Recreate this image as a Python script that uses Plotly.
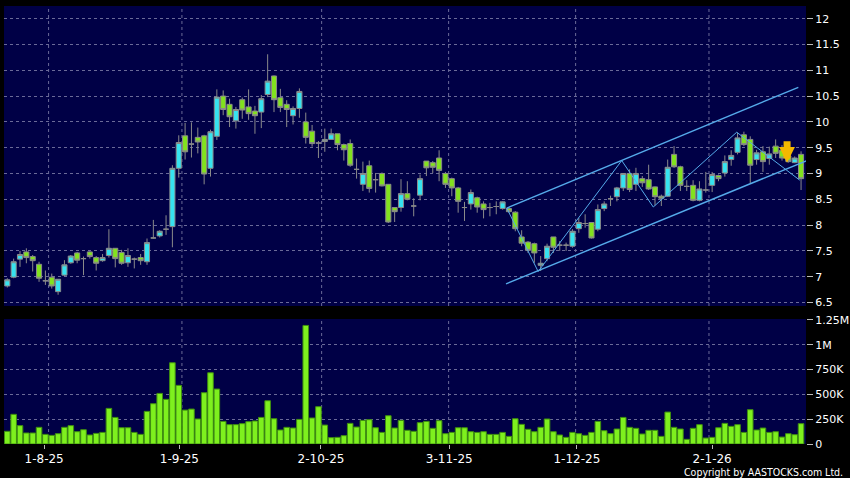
import plotly.graph_objects as go

# ---------------- data ----------------
opens = [6.82, 6.99, 7.34, 7.48, 7.39, 7.24, 6.92, 6.99, 6.71, 7.03,
         7.27, 7.46, 7.35, 7.48, 7.37, 7.31, 7.41, 7.55, 7.47, 7.27,
         7.34, 7.37, 7.29, 7.75, 7.79, 7.92, 7.97, 9.10, 9.73, 9.57,
         9.70, 9.73, 9.10, 9.72, 10.50, 10.34, 10.02, 10.43, 10.29, 10.21,
         10.19, 10.53, 10.89, 10.47, 10.34, 10.12, 10.26, 10.00, 9.82, 9.59,
         9.62, 9.66, 9.77, 9.56, 9.58, 9.08, 8.79, 9.15, 8.88, 9.00,
         8.79, 8.34, 8.34, 8.61, 8.37, 8.58, 9.24, 9.21, 9.30, 9.00,
         8.90, 8.72, 8.34, 8.41, 8.53, 8.41, 8.34, 8.36, 8.32, 8.32,
         8.25, 7.77, 7.67, 7.64, 7.22, 7.35, 7.77, 7.61, 7.61, 7.59,
         7.93, 8.03, 8.05, 7.92, 8.32, 8.51, 8.55, 8.72, 9.00, 8.79,
         8.90, 8.88, 8.74, 8.56, 8.56, 9.37, 9.13, 8.75, 8.77, 8.48,
         8.68, 8.77, 8.96, 9.01, 9.27, 9.41, 9.75, 9.66, 9.27, 9.42,
         9.29, 9.53, 9.45, 9.34, 9.21, 9.37]
highs = [6.97, 7.35, 7.50, 7.55, 7.42, 7.29, 7.12, 7.06, 6.95, 7.32,
         7.42, 7.48, 7.39, 7.49, 7.40, 7.44, 7.92, 7.55, 7.52, 7.55,
         7.37, 7.44, 7.74, 8.10, 7.90, 8.19, 9.16, 9.74, 9.98, 9.99,
         9.89, 9.75, 9.85, 10.63, 10.61, 10.45, 10.29, 10.47, 10.63, 10.31,
         10.52, 11.31, 10.90, 10.64, 10.42, 10.30, 10.65, 10.18, 9.94, 9.63,
         9.87, 9.87, 9.77, 9.58, 9.66, 9.29, 9.23, 9.25, 9.01, 9.02,
         8.79, 8.34, 8.89, 8.85, 8.52, 8.98, 9.24, 9.24, 9.45, 9.03,
         8.92, 8.74, 8.45, 8.69, 8.55, 8.46, 8.43, 8.46, 8.46, 8.35,
         8.27, 7.90, 7.69, 7.66, 7.40, 7.64, 7.77, 7.69, 7.66, 7.92,
         8.14, 8.21, 8.06, 8.40, 8.46, 8.57, 8.74, 9.00, 9.08, 9.11,
         8.95, 9.17, 8.75, 8.59, 9.27, 9.53, 9.15, 8.87, 8.87, 8.85,
         9.03, 9.03, 8.98, 9.35, 9.45, 9.79, 9.81, 9.72, 9.46, 9.53,
         9.52, 9.66, 9.55, 9.37, 9.33, 9.43]
lows = [6.79, 6.97, 7.19, 7.26, 7.10, 6.90, 6.84, 6.77, 6.65, 7.01,
        7.25, 7.26, 7.03, 7.35, 7.12, 7.29, 7.37, 7.18, 7.23, 7.19,
        7.16, 7.23, 7.23, 7.74, 7.76, 7.81, 7.57, 8.92, 9.27, 9.31,
        9.39, 8.79, 8.94, 9.65, 10.13, 9.90, 9.87, 10.06, 10.04, 9.77,
        9.88, 10.48, 10.19, 10.19, 9.90, 9.95, 10.08, 9.58, 9.52, 9.30,
        9.42, 9.65, 9.45, 9.25, 9.13, 8.90, 8.66, 8.63, 8.63, 8.75,
        8.04, 8.06, 8.26, 8.48, 8.17, 8.48, 8.95, 9.01, 8.85, 8.72,
        8.56, 8.24, 8.08, 8.30, 8.24, 8.13, 8.17, 8.21, 8.30, 8.24,
        7.88, 7.59, 7.46, 7.27, 7.11, 7.30, 7.46, 7.50, 7.50, 7.56,
        7.85, 7.95, 7.74, 7.88, 8.27, 8.37, 8.46, 8.66, 8.64, 8.66,
        8.74, 8.68, 8.38, 8.37, 8.55, 9.11, 8.66, 8.66, 8.46, 8.46,
        8.63, 8.64, 8.85, 8.94, 9.15, 9.37, 9.53, 8.81, 9.17, 9.03,
        9.17, 9.30, 9.25, 9.21, 9.20, 8.68]
closes = [6.94, 7.29, 7.43, 7.37, 7.31, 6.97, 6.92, 6.82, 6.95, 7.23,
          7.40, 7.32, 7.35, 7.39, 7.26, 7.37, 7.55, 7.35, 7.26, 7.41,
          7.34, 7.31, 7.66, 7.75, 7.88, 7.92, 9.10, 9.60, 9.42, 9.57,
          9.61, 8.99, 9.81, 10.48, 10.24, 10.10, 10.24, 10.23, 10.16, 10.12,
          10.45, 10.79, 10.43, 10.28, 10.24, 10.26, 10.59, 9.70, 9.58, 9.59,
          9.66, 9.77, 9.56, 9.46, 9.16, 9.08, 9.00, 8.71, 8.88, 8.76,
          8.06, 8.26, 8.61, 8.50, 8.37, 8.90, 9.11, 9.12, 9.06, 8.79,
          8.72, 8.46, 8.34, 8.63, 8.35, 8.30, 8.34, 8.36, 8.45, 8.26,
          7.93, 7.65, 7.51, 7.46, 7.26, 7.59, 7.57, 7.61, 7.61, 7.88,
          8.05, 8.03, 7.75, 8.30, 8.41, 8.51, 8.72, 9.00, 8.69, 9.00,
          8.82, 8.70, 8.55, 8.52, 9.12, 9.13, 8.77, 8.75, 8.48, 8.70,
          8.68, 8.98, 8.90, 9.23, 9.35, 9.69, 9.56, 9.16, 9.40, 9.23,
          9.38, 9.39, 9.30, 9.23, 9.30, 8.90]
volumes_k = [128, 299, 185, 111, 111, 168, 97, 87, 104, 168,
             185, 124, 144, 91, 107, 117, 359, 268, 164, 164,
             117, 97, 329, 406, 510, 450, 819, 591, 342, 352,
             252, 517, 718, 554, 228, 195, 195, 205, 225, 232,
             268, 436, 255, 141, 168, 161, 248, 1195, 262, 376,
             191, 64, 67, 84, 208, 171, 238, 245, 164, 117,
             285, 161, 238, 138, 128, 215, 228, 158, 235, 104,
             117, 164, 164, 124, 117, 124, 97, 97, 117, 77,
             255, 198, 148, 124, 168, 252, 124, 91, 67, 117,
             104, 87, 117, 228, 134, 104, 151, 268, 168, 158,
             101, 138, 138, 77, 322, 168, 151, 47, 158, 195,
             60, 67, 164, 208, 178, 195, 117, 346, 141, 161,
             117, 124, 70, 104, 94, 205]
volumes = [v * 1000 for v in volumes_k]
bar_index = list(range(len(opens)))  # trading-day index, 23-Jul-2025 .. 22-Jan-2026

date_tick_pos = [5.8, 27.1, 49.4, 69.6, 89.7, 111.0]
date_tick_text = ["1-8-25", "1-9-25", "2-10-25", "3-11-25", "1-12-25", "2-1-26"]
month_first_bar = [7, 28, 50, 70, 90, 111]   # first trading day of each month

price_ticks = [6.5, 7, 7.5, 8, 8.5, 9, 9.5, 10, 10.5, 11, 11.5, 12]
price_tick_text = ["6.5", "7", "7.5", "8", "8.5", "9", "9.5", "10", "10.5", "11", "11.5", "12"]
vol_ticks = [0, 250000, 500000, 750000, 1000000, 1250000]
vol_tick_text = ["0", "250K", "500K", "750K", "1M", "1.25M"]

# drawn trend lines (bar index, price)
upper_x = [78.65, 124.57]
upper_y = [8.33, 10.67]
lower_x = [78.54, 125.9]
lower_y = [6.86, 9.25]
zigzag_x = [78.65, 83.6, 96.76, 101.73, 114.87, 124.8]
zigzag_y = [8.33, 7.10, 9.25, 8.35, 9.80, 8.87]
signal_x = 122.8
signal_y = 9.21

# ---------------- styling ----------------
NAVY = "#000046"
CYAN = "#36e3f0"
LIME = "#82e21e"
OUTLINE = "#8a8a8a"
VOLGREEN = "#7ef01e"
GRID = "#6a6a98"
LINEBLUE = "#55aaea"
FONT = "DejaVu Sans"

fig = go.Figure()

fig.add_trace(go.Candlestick(
    x=bar_index, open=opens, high=highs, low=lows, close=closes,
    xaxis="x", yaxis="y",
    increasing=dict(fillcolor=CYAN, line=dict(color=OUTLINE, width=1)),
    decreasing=dict(fillcolor=LIME, line=dict(color=OUTLINE, width=1)),
    whiskerwidth=0, showlegend=False))

fig.add_trace(go.Scatter(x=upper_x, y=upper_y, mode="lines", xaxis="x", yaxis="y",
                         line=dict(color=LINEBLUE, width=1.4), showlegend=False, hoverinfo="skip"))
fig.add_trace(go.Scatter(x=lower_x, y=lower_y, mode="lines", xaxis="x", yaxis="y",
                         line=dict(color=LINEBLUE, width=1.4), showlegend=False, hoverinfo="skip"))
fig.add_trace(go.Scatter(x=zigzag_x, y=zigzag_y, mode="lines", xaxis="x", yaxis="y",
                         line=dict(color=LINEBLUE, width=1), showlegend=False, hoverinfo="skip"))

fig.add_trace(go.Bar(x=bar_index, y=volumes, xaxis="x2", yaxis="y2",
                     marker=dict(color=VOLGREEN, line=dict(color="#3f8f10", width=1)),
                     showlegend=False))

shapes = []
for m in month_first_bar:
    for yr in ("y domain", "y2 domain"):
        shapes.append(dict(type="line", xref="x", yref=yr, x0=m - 0.5, x1=m - 0.5, y0=0, y1=1,
                           line=dict(color=GRID, width=1, dash="3px,3px"), layer="below"))

tickfont = dict(family=FONT, size=11, color="white")

fig.update_layout(
    width=850, height=478,
    margin=dict(l=4, r=44, t=6, b=34),
    paper_bgcolor="black", plot_bgcolor=NAVY,
    boxgap=0.2, boxgroupgap=0, bargap=0.12,
    showlegend=False,
    shapes=shapes,
    xaxis=dict(domain=[0, 1], anchor="y", range=[-0.52, 125.78],
               showticklabels=False, showgrid=False, zeroline=False, ticks="",
               rangeslider=dict(visible=False), showline=False),
    xaxis2=dict(domain=[0, 1], anchor="y2", matches="x",
                tickmode="array", tickvals=date_tick_pos, ticktext=date_tick_text,
                ticks="outside", ticklen=4, tickcolor="#bbbbbb",
                showgrid=False, zeroline=False, showline=False,
                tickfont=dict(family=FONT, size=12, color="white")),
    yaxis=dict(domain=[0.3151, 1], range=[6.432, 12.246], side="right",
               tickmode="array", tickvals=price_ticks, ticktext=price_tick_text,
               ticks="outside", ticklen=6, tickcolor="#bbbbbb",
               showgrid=True, gridcolor=GRID, griddash="3px,3px", gridwidth=1,
               zeroline=False, showline=False, tickfont=tickfont, automargin=False),
    yaxis2=dict(domain=[0, 0.2854], range=[0, 1.26e6], side="right",
                tickmode="array", tickvals=vol_ticks, ticktext=vol_tick_text,
                ticks="outside", ticklen=6, tickcolor="#bbbbbb",
                showgrid=True, gridcolor=GRID, griddash="3px,3px", gridwidth=1,
                zeroline=False, showline=False, tickfont=tickfont, automargin=False),
    annotations=[
        dict(text="Copyright by AASTOCKS.com Ltd.", xref="paper", yref="paper",
             x=1.0486, y=-0.064, xanchor="right", yanchor="middle", showarrow=False,
             font=dict(family="DejaVu Sans Condensed, DejaVu Sans", size=10.5, color="white")),
        dict(x=signal_x, y=signal_y, xref="x", yref="y", ax=0, ay=-23,
             showarrow=True, arrowhead=2, arrowwidth=7, arrowsize=0.45,
             arrowcolor="#f4b800", text=""),
    ],
)

fig.write_html("out.html", config={"displayModeBar": False},
               post_script="document.body.style.margin='0px';document.body.style.padding='0px';")
